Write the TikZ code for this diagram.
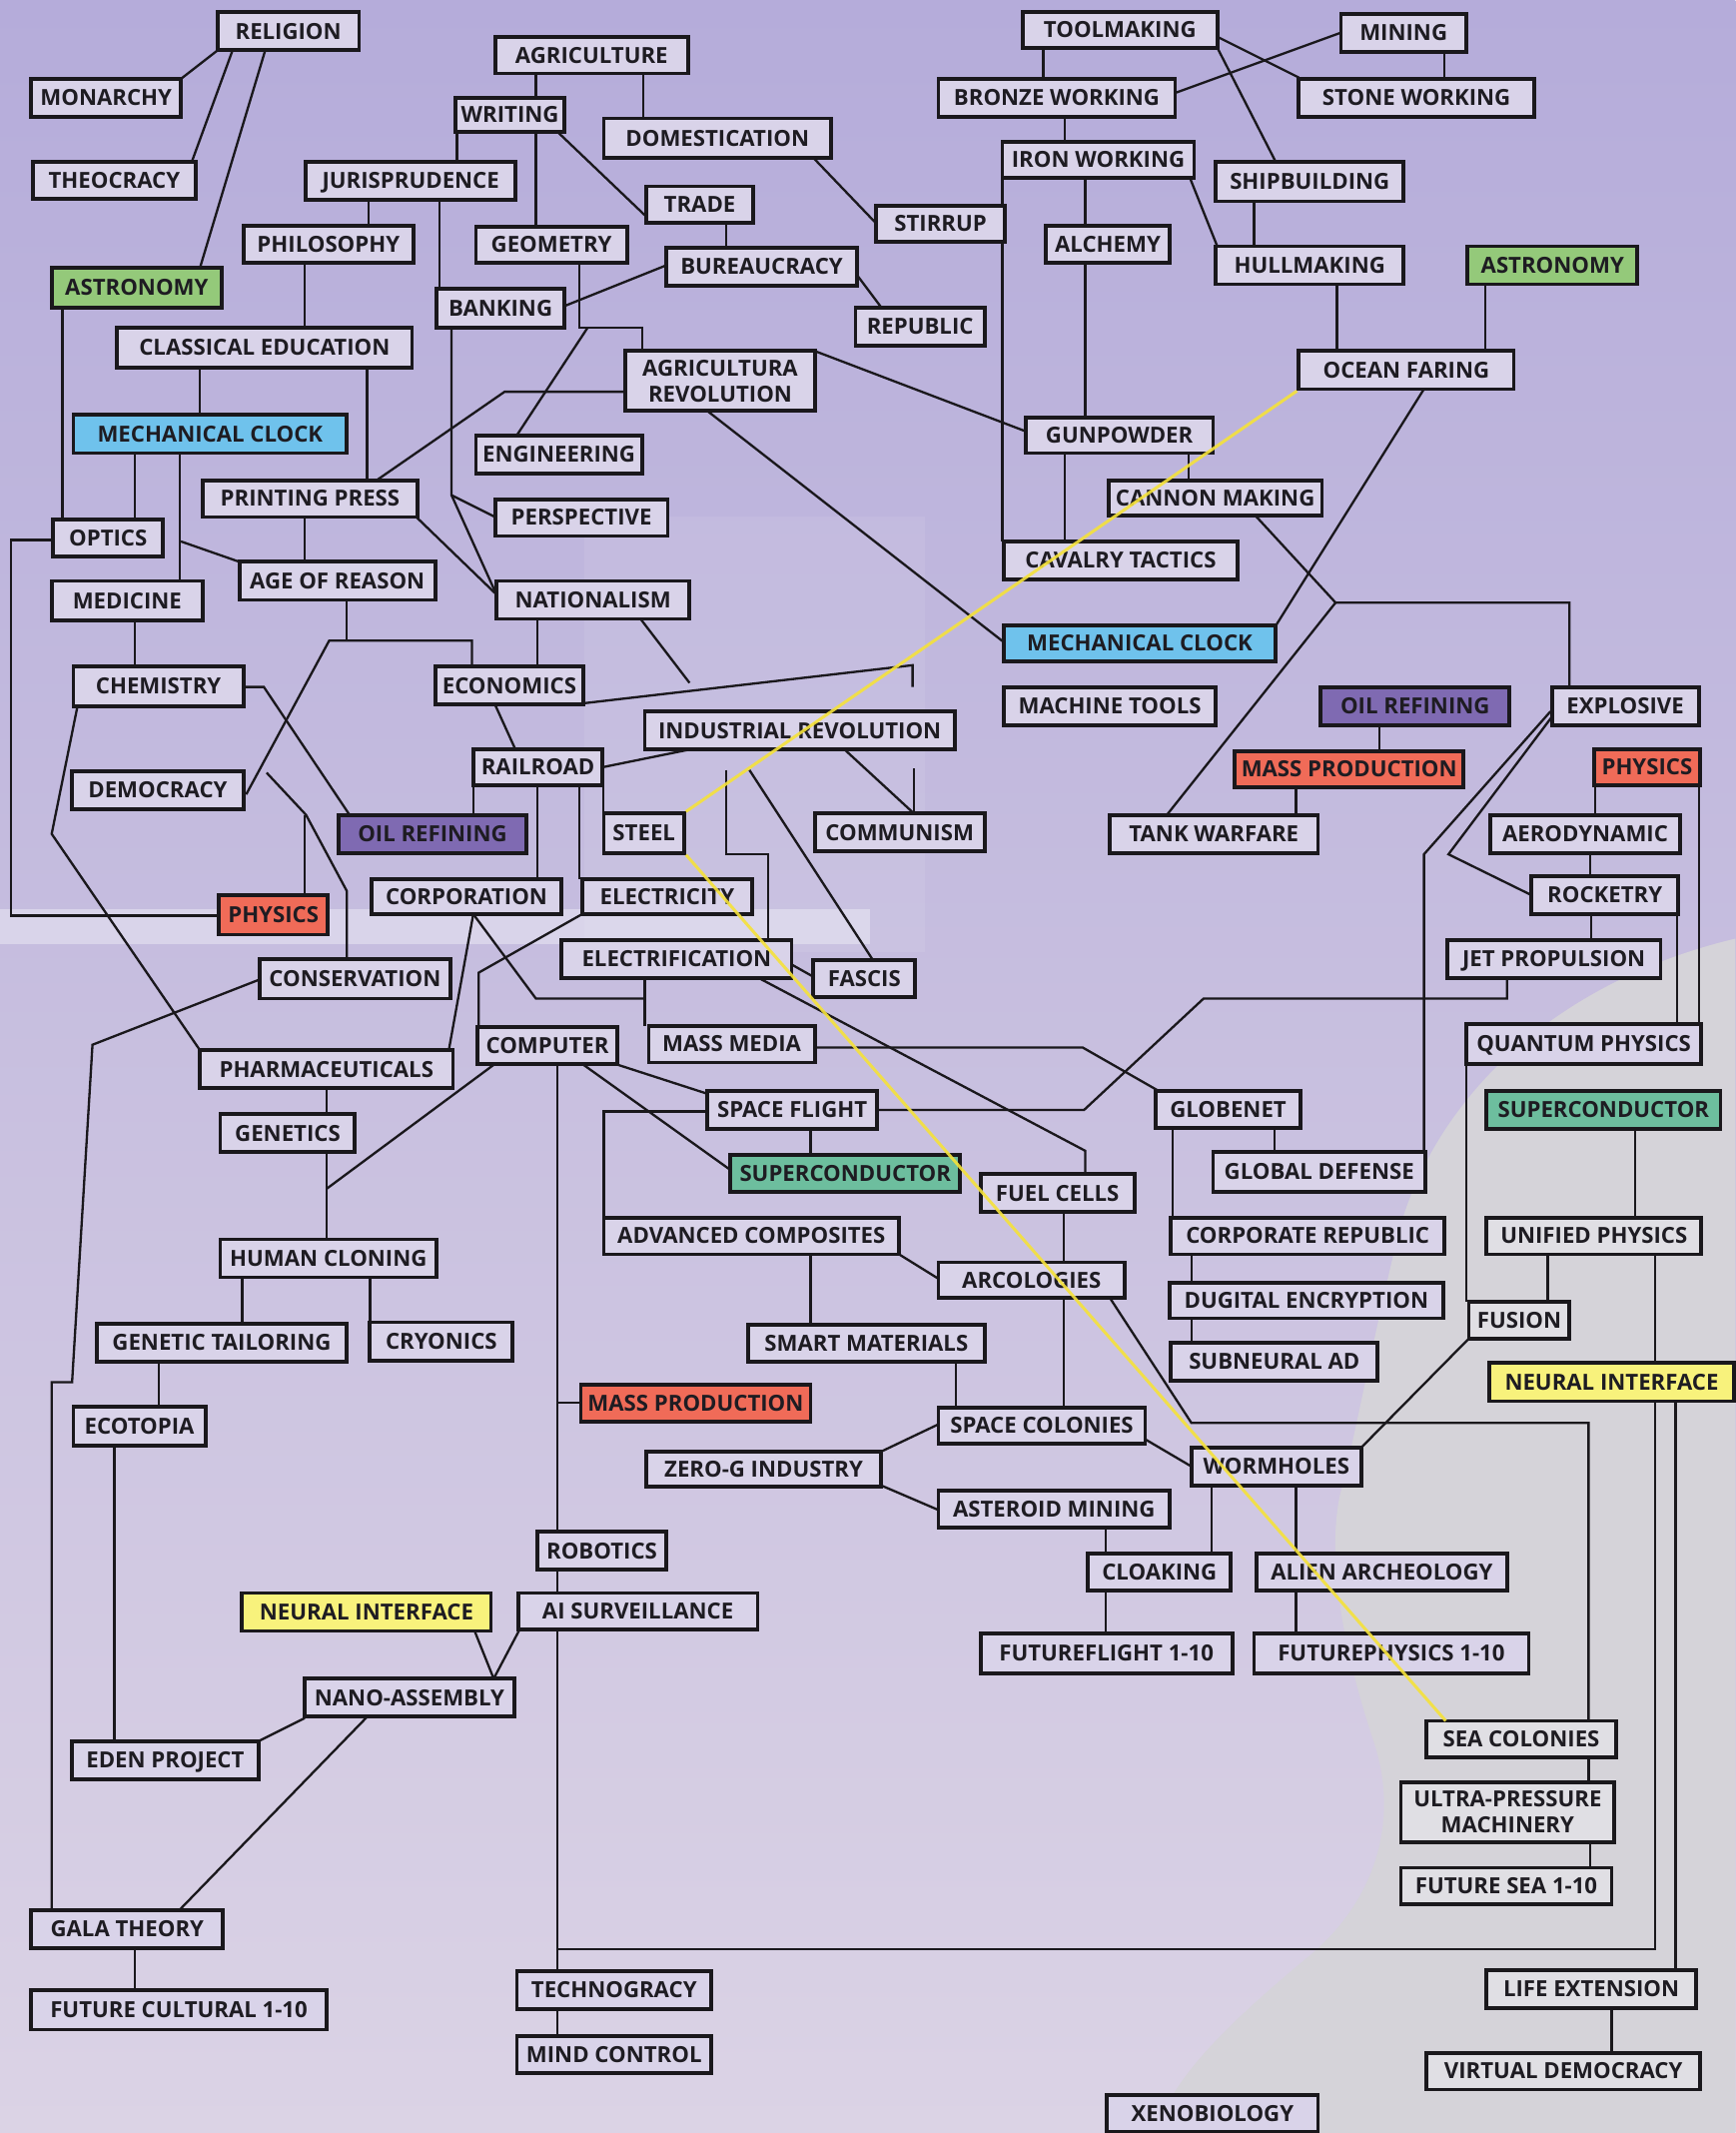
\documentclass[tikz,border=0pt]{standalone}
\usepackage{fontspec}
\newfontfamily\osans{Open Sans}
\definecolor{bgtop}{HTML}{B5ACDA}
\definecolor{bgmid}{HTML}{BEB5DE}
\definecolor{bgbot}{HTML}{DBD3E5}
\definecolor{graybg}{HTML}{D5D3D9}
\definecolor{boxfill}{HTML}{D9D3E9}
\definecolor{boxgray}{HTML}{E0DFE4}
\definecolor{cgreen}{HTML}{94C97A}
\definecolor{cblue}{HTML}{6FC2EC}
\definecolor{cpurple}{HTML}{7F6AB2}
\definecolor{cred}{HTML}{F06B58}
\definecolor{cteal}{HTML}{6DBE9E}
\definecolor{cyellow}{HTML}{F8F27C}
\definecolor{txt}{HTML}{1E1C22}
\definecolor{lin}{HTML}{1A181C}
\definecolor{yline}{HTML}{F5E23A}
\tikzset{
  bx/.style={draw=lin, line width=2.8pt, fill=boxfill, inner sep=0pt, text=txt,
    text height=11.6pt, text depth=0pt,
    font=\osans\bfseries\fontsize{16.3}{19}\selectfont},
  bxtwo/.style={bx, text height=, text depth=, align=center},
  gbx/.style={bx, fill=boxgray},
  gbxtwo/.style={bxtwo, fill=boxgray},
  green/.style={bx, fill=cgreen},
  blue/.style={bx, fill=cblue},
  purple/.style={bx, fill=cpurple},
  red/.style={bx, fill=cred},
  teal/.style={bx, fill=cteal},
  yel/.style={bx, fill=cyellow},
  conn/.style={draw=lin, line width=1.7pt},
  yconn/.style={draw=yline, line width=2.2pt, opacity=0.9}
}
% #1 style, #2 name, #3-#6 corners x1 y1 x2 y2, #7 text
\newcommand\bnode[7]{%
  \pgfmathsetmacro\bncx{(#3+#5)/2}%
  \pgfmathsetmacro\bncy{(#4+#6)/2}%
  \pgfmathsetmacro\bnw{#5-#3}%
  \pgfmathsetmacro\bnh{#6-#4}%
  \node[#1, minimum width=\bnw pt, minimum height=\bnh pt] (#2) at (\bncx,\bncy) {#7};}
\begin{document}
\begin{tikzpicture}[x=1pt,y=-1pt]
\useasboundingbox (0,0) rectangle (1276,1568);
% background
\shade[top color=bgtop, middle color=bgmid, bottom color=bgbot] (0,0) rectangle (1276,1568);
\fill[graybg] (1276,690) .. controls (1150,720) and (1060,800) .. (1030,900)
  .. controls (1010,980) and (1000,1040) .. (985,1100)
  .. controls (975,1150) and (990,1220) .. (1010,1280)
  .. controls (1030,1340) and (1010,1400) .. (960,1440)
  .. controls (900,1490) and (860,1530) .. (850,1568) -- (1276,1568) -- cycle;
\fill[white, opacity=0.35] (0,668) rectangle (640,694);
\fill[white, opacity=0.08] (430,380) rectangle (680,700);

% connectors
\begin{scope}[conn]
\draw (160,37) -- (133,58);
\draw (171,37) -- (141,119);
\draw (195,37) -- (147,197);
\draw (394,54) -- (394,72);
\draw (336,97) -- (336,119);
\draw (394,97) -- (394,167);
\draw (410,97) -- (476,160);
\draw (473,54) -- (473,87);
\draw (598,116) -- (644,164);
\draw (271,147) -- (271,166);
\draw (323,147) -- (323,212);
\draw (534,164) -- (534,182);
\draw (415,225) -- (490,195);
\draw (630,202) -- (648,226);
\draw (224,193) -- (224,241);
\draw (46,226) -- (46,382);
\draw (147,270) -- (147,305);
\draw (270,270) -- (270,353);
\draw (99,333) -- (99,382);
\draw (132,333) -- (132,427);
\draw (277,353) -- (371,288) -- (460,288);
\draw (426,193) -- (426,241) -- (472,241) -- (472,258);
\draw (432,241) -- (380,320);
\draw (332,241) -- (332,364) -- (364,380);
\draw (332,364) -- (365,437);
\draw (224,380) -- (224,413);
\draw (306,380) -- (365,437);
\draw (133,398) -- (176,413);
\draw (39,397) -- (8,397) -- (8,673) -- (161,673);
\draw (99,456) -- (99,490);
\draw (255,441) -- (255,471);
\draw (181,584) -- (242,471) -- (347,471) -- (347,490);
\draw (179,505) -- (194,505) -- (257,599);
\draw (57,519) -- (38,613) -- (147,772);
\draw (196,568) -- (225,599) -- (255,655) -- (255,705);
\draw (224,599) -- (224,658);
\draw (395,455) -- (395,490);
\draw (364,518) -- (379,551);
\draw (471,455) -- (507,502);
\draw (429,517) -- (671,489) -- (671,505);
\draw (443,564) -- (507,551);
\draw (348,577) -- (348,599);
\draw (395,577) -- (395,646);
\draw (426,577) -- (426,646);
\draw (443.6,577) -- (443.6,598);
\draw (534,566) -- (534,628) -- (565,628) -- (565,691);
\draw (551,566) -- (642,706);
\draw (621,551) -- (672,598);
\draw (672,565) -- (672,598);
\draw (582,709) -- (598,718);
\draw (474,719) -- (474,754);
\draw (348,672) -- (394,734) -- (474,734);
\draw (348,672) -- (330,772);
\draw (428,672) -- (352,715) -- (352,756);
\draw (191,720) -- (68,768) -- (53,1016) -- (38,1016) -- (38,1404);
\draw (558,719) -- (798,846) -- (798,863);
\draw (599,770) -- (796,770) -- (852,802);
\draw (1108,719) -- (1108,734) -- (885,734) -- (797,816) -- (645,816);
\draw (452,782) -- (520,804);
\draw (428,782) -- (537,860);
\draw (364,782) -- (240,874);
\draw (410,782) -- (410,1449);
\draw (410,1031) -- (427,1031);
\draw (410,1477) -- (410,1497);
\draw (410,1433) -- (1217,1433) -- (1217,922);
\draw (520,817) -- (444,817) -- (444,895);
\draw (596,830) -- (596,849);
\draw (240,800) -- (240,819);
\draw (240,847) -- (240,911);
\draw (178,939) -- (178,973);
\draw (272,939) -- (272,972);
\draw (117,1001) -- (117,1034);
\draw (84,1063) -- (84,1280);
\draw (349,1199) -- (363,1234) -- (382,1198);
\draw (224,1263) -- (190,1280);
\draw (270,1262) -- (132,1404);
\draw (99,1432) -- (99,1463);
\draw (661,922) -- (690,940);
\draw (596,922) -- (596,974);
\draw (703,1001) -- (703,1035);
\draw (782,891) -- (782,1035);
\draw (648,1067) -- (690,1047);
\draw (648,1092) -- (690,1110);
\draw (813,1123) -- (813,1142);
\draw (813,1169) -- (813,1201);
\draw (842,1058) -- (876,1078);
\draw (816,954) -- (876,1046) -- (1168,1046) -- (1168,1265);
\draw (891,1092) -- (891,1142);
\draw (953,1092) -- (953,1201);
\draw (1080,984) -- (1001,1064);
\draw (1078,782) -- (1078,957);
\draw (1202,830) -- (1202,895);
\draw (1138,922) -- (1138,957);
\draw (1232,1030) -- (1232,1448);
\draw (1185,1476) -- (1185,1509);
\draw (1168,1292) -- (1168,1310);
\draw (1169,1354) -- (1169,1373);
\draw (862,829) -- (862,895);
\draw (937,829) -- (937,847);
\draw (876,922) -- (876,987);
\draw (1140,523) -- (1047,628) -- (1047,847);
\draw (1141,527) -- (1065,628) -- (1126,658);
\draw (1173,577) -- (1173,599);
\draw (1169,627) -- (1169,644);
\draw (1170,672) -- (1170,691);
\draw (1233,672) -- (1233,753);
\draw (1249,577) -- (1249,753);
\draw (1014,533) -- (1014,552);
\draw (953,579) -- (953,599);
\draw (923,379) -- (982,443) -- (1154,443) -- (1154,505);
\draw (982,443) -- (858,599);
\draw (1047,286) -- (938,460);
\draw (520,302) -- (738,472);
\draw (599,258) -- (754,317);
\draw (767,35) -- (767,58);
\draw (783,86) -- (783,104);
\draw (737,131) -- (737,398);
\draw (798,131) -- (798,307);
\draw (783,333) -- (783,398);
\draw (874,333) -- (874,353);
\draw (895,27) -- (955,57);
\draw (895,35) -- (938,119);
\draw (986,24) -- (865,68);
\draw (1062,38) -- (1062,58);
\draw (875,131) -- (895,181);
\draw (922,148) -- (922,181);
\draw (983,209) -- (983,258);
\draw (1092,209) -- (1092,258);
\end{scope}

% nodes
\bnode{bx}{religion}{160}{9}{264}{37}{RELIGION}
\bnode{bx}{agriculture}{364}{27}{506}{54}{AGRICULTURE}
\bnode{bx}{toolmaking}{752}{9}{895}{35}{TOOLMAKING}
\bnode{bx}{mining}{986}{10}{1078}{38}{MINING}
\bnode{bx}{monarchy}{23}{58}{133}{86}{MONARCHY}
\bnode{bx}{writing}{335}{72}{415}{97}{WRITING}
\bnode{bx}{domestication}{444}{87}{611}{116}{DOMESTICATION}
\bnode{bx}{bronze}{690}{58}{864}{86}{BRONZE WORKING}
\bnode{bx}{stone}{955}{58}{1128}{86}{STONE WORKING}
\bnode{bx}{theocracy}{24}{119}{144}{146}{THEOCRACY}
\bnode{bx}{juris}{225}{119}{379}{147}{JURISPRUDENCE}
\bnode{bx}{trade}{475}{137}{554}{164}{TRADE}
\bnode{bx}{iron}{737}{104}{878}{131}{IRON WORKING}
\bnode{bx}{shipbuilding}{894}{119}{1032}{148}{SHIPBUILDING}
\bnode{bx}{stirrup}{644}{151}{739}{178}{STIRRUP}
\bnode{bx}{philosophy}{179}{166}{304}{193}{PHILOSOPHY}
\bnode{bx}{geometry}{350}{167}{461}{193}{GEOMETRY}
\bnode{bx}{bureaucracy}{490}{182}{630}{210}{BUREAUCRACY}
\bnode{bx}{alchemy}{769}{166}{860}{193}{ALCHEMY}
\bnode{bx}{hullmaking}{894}{181}{1032}{209}{HULLMAKING}
\bnode{green}{astronomyR}{1079}{181}{1204}{209}{ASTRONOMY}
\bnode{green}{astronomyL}{38}{197}{163}{226}{ASTRONOMY}
\bnode{bx}{banking}{321}{212}{415}{241}{BANKING}
\bnode{bx}{republic}{629}{226}{724}{254}{REPUBLIC}
\bnode{bx}{classical}{86}{241}{303}{270}{CLASSICAL EDUCATION}
\bnode{bxtwo}{agrirev}{460}{258}{599}{302}{AGRICULTURA\\REVOLUTION}
\bnode{bx}{ocean}{955}{258}{1113}{286}{OCEAN FARING}
\bnode{blue}{clockL}{54}{305}{255}{333}{MECHANICAL CLOCK}
\bnode{bx}{engineering}{350}{320}{472}{348}{ENGINEERING}
\bnode{bx}{gunpowder}{754}{307}{892}{333}{GUNPOWDER}
\bnode{bx}{printing}{149}{353}{307}{380}{PRINTING PRESS}
\bnode{bx}{perspective}{364}{367}{491}{394}{PERSPECTIVE}
\bnode{bx}{cannon}{815}{353}{972}{379}{CANNON MAKING}
\bnode{bx}{optics}{39}{382}{120}{409}{OPTICS}
\bnode{bx}{reason}{176}{413}{320}{441}{AGE OF REASON}
\bnode{bx}{cavalry}{738}{398}{910}{426}{CAVALRY TACTICS}
\bnode{bx}{medicine}{38}{427}{149}{456}{MEDICINE}
\bnode{bx}{nationalism}{365}{427}{507}{455}{NATIONALISM}
\bnode{blue}{clockR}{738}{460}{938}{486}{MECHANICAL CLOCK}
\bnode{bx}{chemistry}{54}{490}{179}{519}{CHEMISTRY}
\bnode{bx}{economics}{320}{490}{429}{518}{ECONOMICS}
\bnode{bx}{machinetools}{738}{505}{894}{533}{MACHINE TOOLS}
\bnode{purple}{oilR}{971}{505}{1110}{533}{OIL REFINING}
\bnode{bx}{explosive}{1141}{505}{1249}{533}{EXPLOSIVE}
\bnode{bx}{indrev}{474}{523}{702}{551}{INDUSTRIAL REVOLUTION}
\bnode{bx}{railroad}{348}{551}{443}{577}{RAILROAD}
\bnode{red}{massprodR}{908}{552}{1076}{579}{MASS PRODUCTION}
\bnode{red}{physicsR}{1172}{551}{1250}{577}{PHYSICS}
\bnode{bx}{democracy}{53}{567}{179}{595}{DEMOCRACY}
\bnode{purple}{oilL}{249}{599}{387}{627}{OIL REFINING}
\bnode{bx}{steel}{444}{598}{503}{627}{STEEL}
\bnode{bx}{communism}{599}{598}{724}{626}{COMMUNISM}
\bnode{bx}{tank}{816}{599}{969}{627}{TANK WARFARE}
\bnode{bx}{aero}{1096}{599}{1235}{627}{AERODYNAMIC}
\bnode{bx}{corporation}{273}{646}{413}{672}{CORPORATION}
\bnode{bx}{electricity}{428}{646}{553}{672}{ELECTRICITY}
\bnode{red}{physicsL}{161}{658}{241}{687}{PHYSICS}
\bnode{bx}{rocketry}{1126}{644}{1234}{672}{ROCKETRY}
\bnode{bx}{electrification}{413}{691}{582}{719}{ELECTRIFICATION}
\bnode{bx}{fascis}{598}{706}{673}{733}{FASCIS}
\bnode{bx}{jet}{1064}{691}{1221}{719}{JET PROPULSION}
\bnode{bx}{conservation}{191}{705}{331}{734}{CONSERVATION}
\bnode{bx}{computer}{351}{755}{454}{782}{COMPUTER}
\bnode{bx}{massmedia}{477}{754}{599}{781}{MASS MEDIA}
\bnode{bx}{quantum}{1078}{753}{1251}{782}{QUANTUM PHYSICS}
\bnode{bx}{pharma}{147}{772}{333}{800}{PHARMACEUTICALS}
\bnode{bx}{globenet}{850}{802}{956}{829}{GLOBENET}
\bnode{bx}{spaceflight}{520}{802}{645}{830}{SPACE FLIGHT}
\bnode{teal}{superR}{1093}{802}{1265}{830}{SUPERCONDUCTOR}
\bnode{bx}{genetics}{162}{819}{261}{847}{GENETICS}
\bnode{teal}{superM}{537}{849}{706}{876}{SUPERCONDUCTOR}
\bnode{bx}{globaldef}{892}{847}{1048}{876}{GLOBAL DEFENSE}
\bnode{bx}{fuelcells}{721}{863}{834}{891}{FUEL CELLS}
\bnode{bx}{advcomp}{444}{895}{661}{922}{ADVANCED COMPOSITES}
\bnode{bx}{corprep}{861}{895}{1062}{922}{CORPORATE REPUBLIC}
\bnode{gbx}{unified}{1093}{895}{1251}{922}{UNIFIED PHYSICS}
\bnode{bx}{cloning}{162}{911}{321}{939}{HUMAN CLONING}
\bnode{bx}{arcologies}{690}{928}{827}{954}{ARCOLOGIES}
\bnode{bx}{dugital}{860}{943}{1061}{969}{DUGITAL ENCRYPTION}
\bnode{gbx}{fusion}{1080}{957}{1154}{984}{FUSION}
\bnode{bx}{tailoring}{71}{973}{255}{1001}{GENETIC TAILORING}
\bnode{bx}{cryonics}{272}{972}{377}{1000}{CRYONICS}
\bnode{bx}{smart}{550}{974}{724}{1001}{SMART MATERIALS}
\bnode{bx}{subneural}{861}{987}{1013}{1015}{SUBNEURAL AD}
\bnode{yel}{neuralR}{1095}{1002}{1275}{1030}{NEURAL INTERFACE}
\bnode{red}{massprodM}{427}{1018}{596}{1045}{MASS PRODUCTION}
\bnode{bx}{ecotopia}{54}{1034}{151}{1063}{ECOTOPIA}
\bnode{bx}{spacecol}{690}{1035}{842}{1061}{SPACE COLONIES}
\bnode{bx}{zerog}{475}{1067}{648}{1093}{ZERO-G INDUSTRY}
\bnode{bx}{wormholes}{876}{1064}{1001}{1092}{WORMHOLES}
\bnode{bx}{asteroid}{690}{1096}{860}{1123}{ASTEROID MINING}
\bnode{bx}{robotics}{395}{1126}{490}{1154}{ROBOTICS}
\bnode{bx}{cloaking}{800}{1142}{905}{1169}{CLOAKING}
\bnode{bx}{alien}{924}{1142}{1108}{1169}{ALIEN ARCHEOLOGY}
\bnode{yel}{neuralL}{178}{1171}{361}{1199}{NEURAL INTERFACE}
\bnode{bx}{aisurv}{381}{1171}{557}{1198}{AI SURVEILLANCE}
\bnode{bx}{futureflight}{721}{1201}{906}{1230}{FUTUREFLIGHT 1-10}
\bnode{bx}{futurephysics}{922}{1201}{1124}{1230}{FUTUREPHYSICS 1-10}
\bnode{bx}{nano}{224}{1234}{378}{1262}{NANO-ASSEMBLY}
\bnode{gbx}{seacol}{1049}{1265}{1188}{1292}{SEA COLONIES}
\bnode{bx}{eden}{53}{1280}{190}{1308}{EDEN PROJECT}
\bnode{gbxtwo}{ultra}{1030}{1310}{1187}{1354}{ULTRA-PRESSURE\\MACHINERY}
\bnode{gbx}{futuresea}{1030}{1373}{1185}{1400}{FUTURE SEA 1-10}
\bnode{bx}{gala}{23}{1404}{164}{1432}{GALA THEORY}
\bnode{bx}{techno}{380}{1449}{523}{1477}{TECHNOGRACY}
\bnode{gbx}{lifeext}{1093}{1448}{1247}{1476}{LIFE EXTENSION}
\bnode{bx}{futurecult}{23}{1463}{240}{1492}{FUTURE CULTURAL 1-10}
\bnode{bx}{mindcontrol}{380}{1497}{523}{1524}{MIND CONTROL}
\bnode{gbx}{virtualdem}{1049}{1509}{1250}{1536}{VIRTUAL DEMOCRACY}
\bnode{bx}{xeno}{814}{1540}{969}{1567}{XENOBIOLOGY}

% yellow route
\draw[yconn] (ocean.south west) -- (steel.north east);
\draw[yconn] (steel.south east) -- (1063,1265);
\end{tikzpicture}
\end{document}
